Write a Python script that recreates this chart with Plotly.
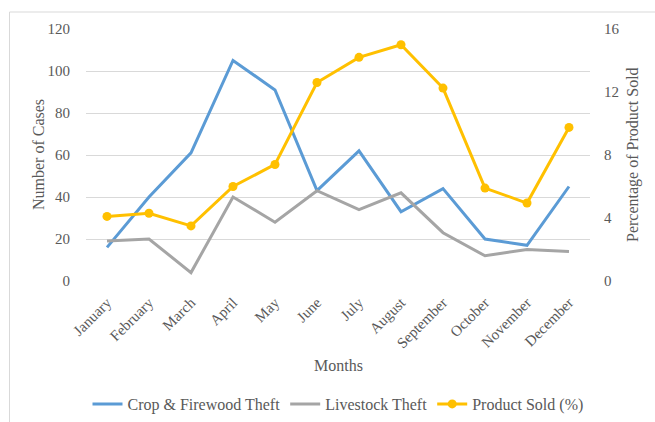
import plotly.graph_objects as go

months = ["January", "February", "March", "April", "May", "June", "July",
          "August", "September", "October", "November", "December"]
crop_firewood = [16, 40, 61, 105, 91, 43, 62, 33, 44, 20, 17, 45]
livestock = [19, 20, 4, 40, 28, 43, 34, 42, 23, 12, 15, 14]
product_sold = [4.1, 4.3, 3.5, 6.0, 7.4, 12.6, 14.2, 15.0, 12.25, 5.9, 4.95, 9.75]

FONT = "Liberation Serif"
TXT = "#595959"

fig = go.Figure()
fig.add_trace(go.Scatter(x=months, y=crop_firewood, name="Crop & Firewood Theft",
                         mode="lines", line=dict(color="#5B9BD5", width=3)))
fig.add_trace(go.Scatter(x=months, y=livestock, name="Livestock Theft",
                         mode="lines", line=dict(color="#A5A5A5", width=3)))
fig.add_trace(go.Scatter(x=months, y=product_sold, name="Product Sold (%)",
                         mode="lines+markers", yaxis="y2",
                         line=dict(color="#FFC000", width=3),
                         marker=dict(color="#FFC000", size=9)))

W, H = 655, 422
L, R, T, B = 86, 590, 29, 281


def px(x):
    return (x - L) / (R - L)


def py(y):
    return (B - y) / (B - T)


fig.update_layout(
    width=W, height=H,
    margin=dict(l=L, r=W - R, t=T, b=H - B, pad=0, autoexpand=False),
    paper_bgcolor="white", plot_bgcolor="white",
    font=dict(family=FONT, size=16, color=TXT),
    showlegend=True,
    legend=dict(orientation="h", xref="container", yref="container",
                x=338 / W, xanchor="center", y=(H - 404) / H, yanchor="middle",
                font=dict(family=FONT, size=16, color=TXT), itemwidth=30,
                tracegroupgap=0, bgcolor="rgba(0,0,0,0)"),
    xaxis=dict(type="category", tickangle=-45, showgrid=False, zeroline=False,
               showline=False, ticks="outside", ticklen=6, tickcolor="rgba(0,0,0,0)",
               tickfont=dict(family=FONT, size=15, color=TXT),
               range=[-0.5, 11.5], automargin=False),
    yaxis=dict(range=[0, 120], dtick=20, showgrid=True, gridcolor="#D9D9D9", gridwidth=1,
               zeroline=False, showline=False, ticks="outside", ticklen=12,
               tickcolor="rgba(0,0,0,0)", tickfont=dict(family=FONT, size=15, color=TXT),
               automargin=False),
    yaxis2=dict(range=[0, 16], dtick=4, overlaying="y", side="right", showgrid=False,
                zeroline=False, showline=False, ticks="outside", ticklen=10,
                tickcolor="rgba(0,0,0,0)", tickfont=dict(family=FONT, size=15, color=TXT),
                automargin=False),
    annotations=[
        dict(text="Months", xref="paper", yref="paper", x=px(338), y=py(365),
             xanchor="center", yanchor="middle", showarrow=False,
             font=dict(family=FONT, size=16, color=TXT)),
        dict(text="Number of Cases", xref="paper", yref="paper", x=px(38), y=py(155),
             xanchor="center", yanchor="middle", showarrow=False, textangle=-90,
             font=dict(family=FONT, size=16, color=TXT)),
        dict(text="Percentage of Product Sold", xref="paper", yref="paper", x=px(633), y=py(155),
             xanchor="center", yanchor="middle", showarrow=False, textangle=-90,
             font=dict(family=FONT, size=16, color=TXT)),
    ],
    shapes=[
        dict(type="line", xref="paper", yref="paper", x0=px(9.5), x1=px(W), y0=py(12), y1=py(12),
             line=dict(color="#D9D9D9", width=1)),
        dict(type="line", xref="paper", yref="paper", x0=px(9.5), x1=px(9.5), y0=py(12), y1=py(H),
             line=dict(color="#D9D9D9", width=1)),
    ],
)

fig.write_html("out.html")
